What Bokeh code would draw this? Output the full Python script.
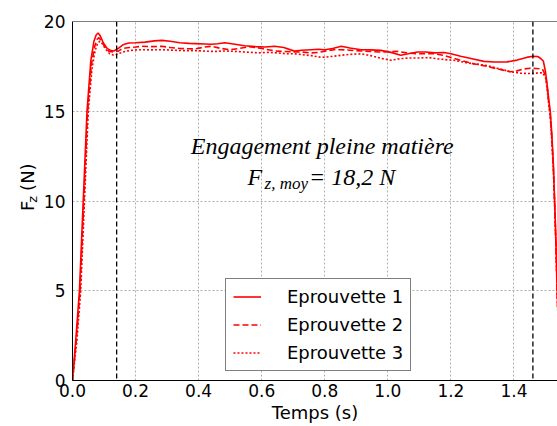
import math
from bokeh.plotting import figure
from bokeh.layouts import row
from bokeh.models import Range1d, Span, Label, Legend, LegendItem, FixedTicker, PrintfTickFormatter
from bokeh.embed import file_html
from bokeh.resources import INLINE

# ---- data ----
t1 = [0, 0.01, 0.022, 0.034, 0.046, 0.058, 0.068, 0.075, 0.081, 0.088, 0.098, 0.11, 0.122, 0.131,
      0.145, 0.16, 0.178, 0.2, 0.23, 0.26, 0.283, 0.31, 0.34, 0.37, 0.389, 0.42, 0.441, 0.46, 0.483,
      0.51, 0.546, 0.58, 0.61, 0.641, 0.67, 0.704, 0.726, 0.757, 0.78, 0.80, 0.825, 0.852, 0.88,
      0.915, 0.945, 0.978, 1.01, 1.041, 1.065, 1.094, 1.12, 1.15, 1.178, 1.2, 1.231, 1.26, 1.305,
      1.34, 1.378, 1.41, 1.44, 1.46, 1.475, 1.484, 1.493, 1.50, 1.505, 1.51, 1.515, 1.52, 1.525,
      1.529, 1.533, 1.537, 1.54]
f1 = [0, 2.2, 5, 10, 15, 17.8, 18.9, 19.25, 19.36, 19.2, 18.8, 18.5, 18.38, 18.36,
      18.5, 18.7, 18.8, 18.82, 18.85, 18.92, 18.95, 18.9, 18.82, 18.78, 18.77, 18.75, 18.73, 18.76, 18.82,
      18.75, 18.65, 18.6, 18.58, 18.62, 18.55, 18.35, 18.4, 18.43, 18.45, 18.43, 18.5, 18.62, 18.52,
      18.43, 18.42, 18.39, 18.28, 18.12, 18.2, 18.3, 18.3, 18.25, 18.27, 18.2, 18.06, 17.95, 17.78,
      17.74, 17.75, 17.85, 18.0, 18.06, 18.05, 17.95, 17.8, 17.2, 16.5, 15.7, 15.0, 13.7, 12.0,
      10.0, 7.8, 5.0, 3.5]

t2 = [0, 0.012, 0.024, 0.036, 0.048, 0.06, 0.07, 0.078, 0.084, 0.092, 0.102, 0.115, 0.13, 0.145,
      0.16, 0.18, 0.2, 0.22, 0.25, 0.283, 0.31, 0.34, 0.37, 0.389, 0.42, 0.441, 0.47, 0.5, 0.53,
      0.56, 0.6, 0.641, 0.67, 0.704, 0.726, 0.757, 0.78, 0.80, 0.83, 0.852, 0.88, 0.915, 0.945,
      0.978, 1.03, 1.06, 1.09, 1.12, 1.147, 1.18, 1.2, 1.231, 1.27, 1.315, 1.35, 1.389, 1.41,
      1.43, 1.452, 1.47, 1.49, 1.50, 1.505, 1.51, 1.515, 1.52, 1.525, 1.529, 1.533, 1.537, 1.54]
f2 = [0, 2.2, 5, 10, 15, 17.6, 18.6, 19.0, 19.1, 18.9, 18.6, 18.35, 18.3, 18.35,
      18.5, 18.55, 18.58, 18.62, 18.6, 18.62, 18.55, 18.5, 18.48, 18.47, 18.58, 18.62, 18.5, 18.43, 18.5,
      18.6, 18.5, 18.36, 18.33, 18.3, 18.3, 18.25, 18.28, 18.35, 18.43, 18.43, 18.4, 18.36, 18.33,
      18.3, 18.34, 18.25, 18.2, 18.2, 18.21, 18.1, 18.0, 17.84, 17.65, 17.5, 17.35, 17.2, 17.25,
      17.35, 17.4, 17.38, 17.35, 17.0, 16.4, 15.5, 14.8, 13.5, 11.8, 9.8, 7.6, 4.8, 3.3]

t3 = [0, 0.014, 0.026, 0.038, 0.05, 0.062, 0.072, 0.08, 0.087, 0.095, 0.105, 0.118, 0.131, 0.145,
      0.16, 0.18, 0.21, 0.25, 0.283, 0.32, 0.35, 0.389, 0.42, 0.45, 0.483, 0.52, 0.55, 0.59, 0.62,
      0.65, 0.68, 0.704, 0.73, 0.757, 0.79, 0.82, 0.852, 0.88, 0.915, 0.945, 0.978, 1.01, 1.04,
      1.07, 1.1, 1.13, 1.16, 1.19, 1.21, 1.25, 1.31, 1.35, 1.389, 1.42, 1.452, 1.475, 1.49, 1.50,
      1.505, 1.51, 1.515, 1.52, 1.525, 1.529, 1.533, 1.537, 1.54]
f3 = [0, 2.2, 5, 10, 15, 17.4, 18.4, 18.8, 18.9, 18.75, 18.45, 18.2, 18.12, 18.2,
      18.3, 18.38, 18.43, 18.42, 18.43, 18.4, 18.38, 18.38, 18.35, 18.33, 18.36, 18.33, 18.3, 18.25, 18.28,
      18.25, 18.2, 18.2, 18.15, 18.1, 18.0, 18.05, 18.12, 18.17, 18.2, 18.1, 17.95, 17.84, 17.93,
      17.97, 17.97, 17.99, 17.92, 17.86, 17.84, 17.7, 17.56, 17.38, 17.2, 17.12, 17.1, 17.13, 17.15, 16.9,
      16.3, 15.4, 14.7, 13.4, 11.7, 9.7, 7.5, 4.8, 3.2]

series_labels = ["Eprouvette 1", "Eprouvette 2", "Eprouvette 3"]
x_ticks = [0.0, 0.2, 0.4, 0.6, 0.8, 1.0, 1.2, 1.4]
y_ticks = [0, 5, 10, 15, 20]
markers_t = [0.14, 1.46]
x_max = 1.538
y_max = 20
x_label = "Temps (s)"
y_label_main = "F"
y_label_sub = "z"
y_label_unit = "(N)"
title_line = "Engagement pleine matière"
mean_main = "F"
mean_sub = "z, moy"
mean_value = "= 18,2 N"

W = 557
H = 426
LW = 40     # narrow panel holding the rotated y-axis title

# ---- narrow panel with the rotated y-axis title (F_z (N)) ----
lp = figure(width=LW, height=H, x_range=Range1d(0, LW), y_range=Range1d(0, H),
            output_backend="svg", toolbar_location=None, title=None,
            x_axis_type=None, y_axis_type=None,
            min_border_left=0, min_border_right=0, min_border_top=0, min_border_bottom=0)
lp.outline_line_color = None
lp.xgrid.visible = False
lp.ygrid.visible = False
lp.add_layout(Label(x=27, y=201, text=y_label_main, angle=math.pi / 2, text_font="DejaVu Sans",
                    text_font_size="18px", text_align="left", text_baseline="alphabetic",
                    text_color="black"))
lp.add_layout(Label(x=32, y=211, text=y_label_sub, angle=math.pi / 2, text_font="DejaVu Sans",
                    text_font_size="13px", text_align="left", text_baseline="alphabetic",
                    text_color="black"))
lp.add_layout(Label(x=27, y=225, text=y_label_unit, angle=math.pi / 2, text_font="DejaVu Sans",
                    text_font_size="18px", text_align="left", text_baseline="alphabetic",
                    text_color="black"))

# ---- main figure ----
p = figure(width=W - LW, height=H, x_range=Range1d(0, x_max), y_range=Range1d(0, y_max),
           output_backend="svg", toolbar_location=None, title=None,
           min_border_left=70 - LW, min_border_right=0, min_border_top=21, min_border_bottom=46)
p.outline_line_color = None
p.background_fill_color = "white"
p.border_fill_color = "white"

p.xaxis.ticker = FixedTicker(ticks=x_ticks)
p.yaxis.ticker = FixedTicker(ticks=y_ticks)
p.xaxis.formatter = PrintfTickFormatter(format="%.1f")
p.yaxis.formatter = PrintfTickFormatter(format="%d")
for ax in (p.xaxis, p.yaxis):
    ax.major_label_text_font = "DejaVu Sans"
    ax.major_label_text_font_size = "17px"
    ax.major_label_text_color = "black"
    ax.axis_line_color = "black"
    ax.axis_line_width = 1
    ax.major_tick_line_color = None
    ax.minor_tick_line_color = None
    ax.major_tick_out = 0
    ax.major_tick_in = 0
p.xaxis.major_label_standoff = 3
p.yaxis.major_label_standoff = 7
p.xaxis.axis_label = x_label
p.xaxis.axis_label_standoff = 2
p.xaxis.axis_label_text_font = "DejaVu Sans"
p.xaxis.axis_label_text_font_size = "18px"
p.xaxis.axis_label_text_font_style = "normal"
p.xaxis.axis_label_text_color = "black"

for g in (p.xgrid, p.ygrid):
    g.grid_line_color = "#b0b0b0"
    g.grid_line_dash = "2 2"
    g.grid_line_width = 1

# top border of the frame
p.add_layout(Span(location=y_max, dimension="width", line_color="black", line_width=1))

for m in markers_t:
    p.add_layout(Span(location=m, dimension="height", line_color="black",
                      line_dash="5 3", line_width=1.3))

r1 = p.line(t1, f1, line_color="red", line_width=1.6)
r2 = p.line(t2, f2, line_color="red", line_width=1.6, line_dash="6 3")
r3 = p.line(t3, f3, line_color="red", line_width=1.6, line_dash="2 2")

legend = Legend(items=[LegendItem(label=series_labels[0], renderers=[r1]),
                       LegendItem(label=series_labels[1], renderers=[r2]),
                       LegendItem(label=series_labels[2], renderers=[r3])],
                location=(153, 9))
legend.border_line_color = "black"
legend.border_line_width = 1
legend.background_fill_color = "white"
legend.background_fill_alpha = 1
legend.label_text_font = "DejaVu Sans"
legend.label_text_font_size = "18px"
legend.label_text_color = "black"
legend.glyph_width = 28
legend.glyph_height = 21
legend.label_height = 21
legend.label_standoff = 26
legend.padding = 7
legend.spacing = 7
legend.margin = 0
p.add_layout(legend)

# annotation texts
p.add_layout(Label(x=0.792, y=13.04, text=title_line, text_font="Liberation Serif",
                   text_font_style="italic", text_font_size="24px", text_align="center",
                   text_baseline="alphabetic", text_color="black"))
p.add_layout(Label(x=0.555, y=11.32, text=mean_main, text_font="Liberation Serif",
                   text_font_style="italic", text_font_size="24px", text_align="left",
                   text_baseline="alphabetic", text_color="black"))
p.add_layout(Label(x=0.609, y=10.95, text=mean_sub, text_font="Liberation Serif",
                   text_font_style="italic", text_font_size="17px", text_align="left",
                   text_baseline="alphabetic", text_color="black"))
p.add_layout(Label(x=0.75, y=11.32, text=mean_value, text_font="Liberation Serif",
                   text_font_style="italic", text_font_size="24px", text_align="left",
                   text_baseline="alphabetic", text_color="black"))

layout = row(lp, p)
open("out.html", "w").write(file_html(layout, INLINE))
